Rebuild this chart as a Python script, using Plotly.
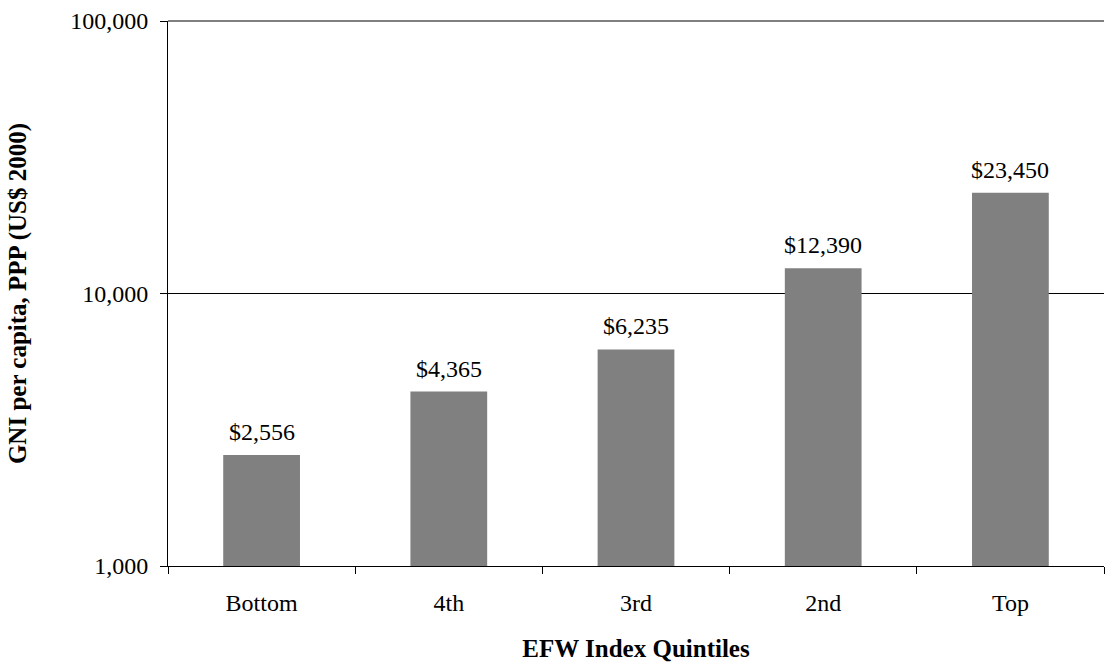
import math
import plotly.graph_objects as go

categories = ["Bottom", "4th", "3rd", "2nd", "Top"]
values = [2556, 4365, 6235, 12390, 23450]
labels = ["$2,556", "$4,365", "$6,235", "$12,390", "$23,450"]
y_ticks = [1000, 10000, 100000]
y_tick_text = ["1,000", "10,000", "100,000"]

FONT = "Liberation Serif"
SIZE = 24
TSIZE = 25

fig = go.Figure()
fig.add_trace(go.Bar(
    x=categories, y=values,
    marker=dict(color="#808080", line=dict(width=0)),
    width=0.41,
))
for c, v, t in zip(categories, values, labels):
    fig.add_annotation(x=c, y=math.log10(v), yref="y", xref="x", text=t, showarrow=False,
                       yanchor="bottom", yshift=8,
                       font=dict(family=FONT, size=SIZE, color="#000"))

fig.update_layout(
    width=1110, height=664,
    margin=dict(l=168, r=6, t=21, b=98),
    paper_bgcolor="white", plot_bgcolor="white",
    font=dict(family=FONT, size=SIZE, color="#000"),
    showlegend=False,
)
# top border line at 100,000 (gridline at range edge)
fig.add_shape(type="line", xref="paper", yref="paper", x0=0, x1=1, y0=1, y1=1,
              line=dict(color="#000", width=1))
fig.update_xaxes(
    type="category", tickson="boundaries", ticks="outside", ticklen=7,
    tickcolor="#000", tickwidth=1, showline=True, linecolor="#000", linewidth=1,
    showgrid=False, ticklabelstandoff=15,
    title=dict(text="<b>EFW Index Quintiles</b>", font=dict(family=FONT, size=TSIZE), standoff=24),
    tickfont=dict(family=FONT, size=SIZE),
)
fig.update_yaxes(
    type="log", range=[3, 5], tickvals=y_ticks, ticktext=y_tick_text,
    ticks="outside", ticklen=7, tickcolor="#000", showline=True, linecolor="#000",
    linewidth=1, showgrid=True, gridcolor="#000", gridwidth=1, zeroline=False,
    ticklabelstandoff=7,
    title=dict(text="<b>GNI per capita, PPP (US$ 2000)</b>", font=dict(family=FONT, size=TSIZE), standoff=36),
    tickfont=dict(family=FONT, size=SIZE),
)

fig.write_html("out.html")
